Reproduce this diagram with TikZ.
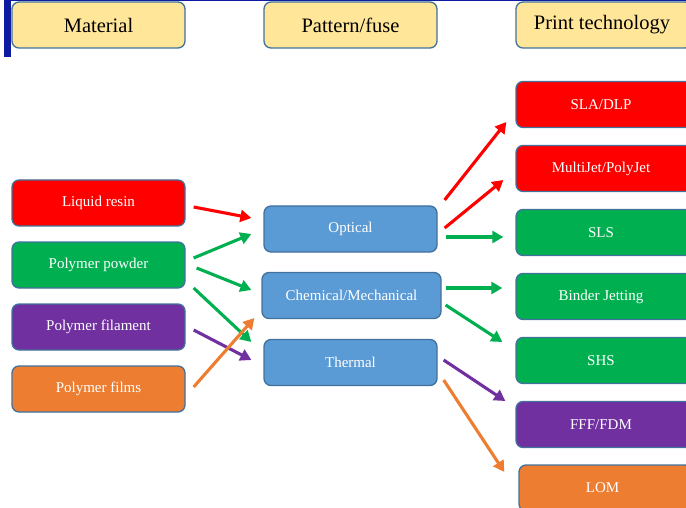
\documentclass[tikz,border=0pt]{standalone}
\usepackage{fontspec}
\setmainfont{Liberation Serif}
\usetikzlibrary{calc,arrows.meta}
\definecolor{cred}{HTML}{FF0000}
\definecolor{cgreen}{HTML}{00B050}
\definecolor{cpurple}{HTML}{7030A0}
\definecolor{corange}{HTML}{ED7D31}
\definecolor{cblue}{HTML}{5B9BD5}
\definecolor{chead}{HTML}{FFE699}
\definecolor{cborder}{HTML}{41719C}
\definecolor{cbar}{HTML}{0D1BA0}
\tikzset{
  box/.style={draw=cborder, line width=1.3pt, rounded corners=7pt, inner sep=0pt, minimum width=173pt, minimum height=46pt, text=white, font=\fontsize{15}{17}\selectfont},
  head/.style={box, fill=chead, text=black, font=\fontsize{20.5}{22}\selectfont},
  ar/.style={line width=3.1pt, -{Triangle[length=11pt,width=12pt]}}
}
\begin{document}
\begin{tikzpicture}[x=1pt,y=-1pt]
\useasboundingbox (0,0) rectangle (686,508);
\clip (0,0) rectangle (686,508);
% top decoration
\fill[cbar] (4,0) rectangle (11,57);
\fill[cbar] (11,0) rectangle (686,1.5);
% headers
\node[head] (hmat) at (98.5,25) {Material};
\node[head] (hpat) at (350.5,25) {Pattern/fuse};
\node[head, minimum width=176pt] (hpri) at (604,25) {\hspace*{-4pt}Print technology};
% left column
\node[box, fill=cred] (lr) at (98.5,203) {Liquid resin};
\node[box, fill=cgreen] (pp) at (98.5,265) {Polymer powder};
\node[box, fill=cpurple] (pf) at (98.5,327) {Polymer filament};
\node[box, fill=corange] (pfi) at (98.5,389) {Polymer films};
% middle column
\node[box, fill=cblue] (opt) at (350.5,229) {Optical};
\node[box, fill=cblue, minimum width=179pt] (cm) at (351.5,295.5) {Chemical/Mechanical};
\node[box, fill=cblue] (th) at (350.5,362.5) {Thermal};
% right column
\node[box, fill=cred, minimum width=176pt] (sla) at (604,104.5) {\hspace*{-6pt}SLA/DLP};
\node[box, fill=cred, minimum width=176pt] (mj) at (604,168.5) {\hspace*{-6pt}MultiJet/PolyJet};
\node[box, fill=cgreen, minimum width=176pt] (sls) at (604,232.5) {\hspace*{-6pt}SLS};
\node[box, fill=cgreen, minimum width=176pt] (bj) at (604,296.5) {\hspace*{-6pt}Binder Jetting};
\node[box, fill=cgreen, minimum width=176pt] (shs) at (604,360.5) {\hspace*{-6pt}SHS};
\node[box, fill=cpurple, minimum width=176pt] (fff) at (604,424.5) {\hspace*{-6pt}FFF/FDM};
\node[box, fill=corange, minimum width=173pt, minimum height=46pt] (lom) at (605.5,488) {\hspace*{-6pt}LOM};
% left arrows
\draw[ar, cred] ($(lr.east)+(8,4)$) -- ($(opt.west)+(-12,-11)$);
\draw[ar, cgreen] ($(pp.east)+(8,-7)$) -- ($(opt.west)+(-12,5)$);
\draw[ar, cgreen] ($(pp.east)+(11,3)$) -- ($(cm.west)+(-10,-5.5)$);
\draw[ar, cgreen] ($(pp.east)+(8,23)$) -- ($(th.west)+(-12,-20.5)$);
\draw[ar, cpurple] ($(pf.east)+(8,3)$) -- ($(th.west)+(-12,-2.5)$);
\draw[ar, corange] ($(pfi.east)+(8,-2)$) -- ($(cm.west)+(-7,22.5)$);
% right arrows
\draw[ar, cred] ($(opt.east)+(7,-29)$) -- ($(sla.west)+(-9,17.5)$);
\draw[ar, cred] ($(opt.east)+(7,-1)$) -- ($(mj.west)+(-12,11.5)$);
\draw[ar, cgreen] ($(opt.east)+(8,8)$) -- ($(sls.west)+(-12,4.5)$);
\draw[ar, cgreen] ($(cm.east)+(4,-7.5)$) -- ($(bj.west)+(-13,-8.5)$);
\draw[ar, cgreen] ($(cm.east)+(4,9.5)$) -- ($(shs.west)+(-13,-18.5)$);
\draw[ar, cpurple] ($(th.east)+(6,-2.5)$) -- ($(fff.west)+(-10,-23.5)$);
\draw[ar, corange] ($(th.east)+(6,17.5)$) -- ($(lom.west)+(-14,-16)$);
\end{tikzpicture}
\end{document}
